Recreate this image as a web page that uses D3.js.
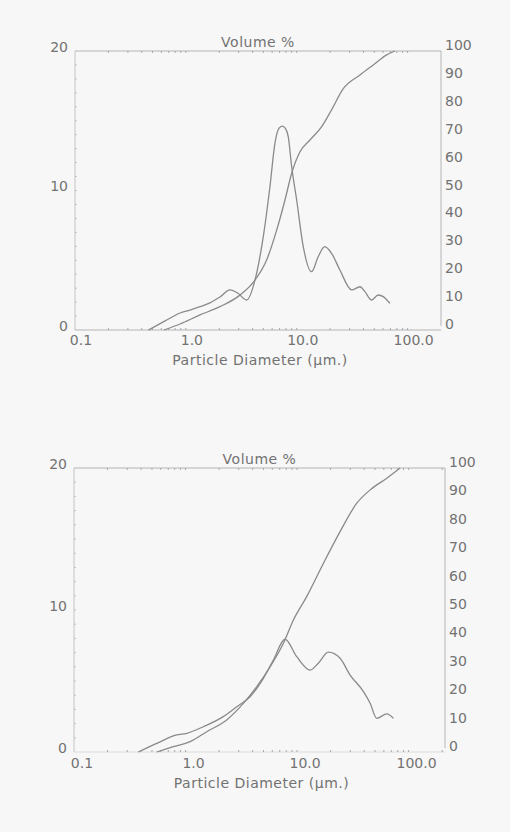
<!DOCTYPE html>
<html>
<head>
<meta charset="utf-8">
<script src="https://cdn.jsdelivr.net/npm/d3@7"></script>
<style>
  html, body { margin: 0; padding: 0; background: #f7f7f7; }
  svg { display: block; }
  text { font-family: "DejaVu Sans", sans-serif; font-size: 14px; fill: #727272; }
</style>
</head>
<body>
<svg id="chart" width="510" height="832"></svg>
<script>
// ---- data ----
const xTickValues = [0.1, 1, 10, 100];
const leftTickValues = [0, 10, 20];
const rightTickValues = [0, 10, 20, 30, 40, 50, 60, 70, 80, 90, 100];
const leftTitle = "Volume %";
const xTitle = "Particle Diameter (µm.)";

// chart 1 : differential volume % (left axis)
const c1FreqDiam = [0.46, 0.65, 0.885, 1.09, 1.34, 1.65, 2.03, 2.50, 2.95, 3.53, 4.20, 4.99, 5.73, 6.36, 6.9, 7.4, 7.9, 8.38, 9.0, 9.98, 11.45, 13.6, 15.6, 17.9, 20.6, 24.5, 31.3, 37.2, 41.2, 47.3, 54.3, 60.3, 69.2];
const c1FreqVol  = [0, 0.65, 1.22, 1.43, 1.67, 1.94, 2.37, 2.87, 2.63, 2.15, 3.58, 6.69, 10.27, 13.4, 14.45, 14.62, 14.45, 13.86, 11.7, 9.32, 5.97, 4.18, 5.25, 5.97, 5.5, 4.3, 2.87, 3.1, 2.75, 2.15, 2.51, 2.39, 1.91];
// chart 1 : cumulative volume % (right axis)
const c1CumDiam = [0.635, 0.885, 1.34, 2.03, 3.07, 4.20, 5.35, 6.59, 7.83, 9.0, 10.7, 13.15, 16.8, 20.6, 26.2, 37.2, 49.0, 64.7, 76.8];
const c1CumVol  = [0, 2.15, 5.4, 8.35, 12.5, 17.9, 25.1, 35.8, 46.6, 56.2, 63.9, 68.1, 72.9, 78.9, 86.4, 91.4, 95.0, 98.6, 100];

// chart 2 : differential volume % (left axis)
const c2FreqDiam = [0.377, 0.552, 0.834, 1.025, 1.444, 2.18, 2.88, 3.79, 4.99, 6.13, 7.80, 9.94, 13.1, 15.5, 19.1, 24.3, 29.9, 39.4, 45.2, 51.9, 63.7, 73.1];
const c2FreqVol  = [0, 0.61, 1.20, 1.32, 1.78, 2.49, 3.19, 3.89, 5.19, 6.48, 7.94, 6.71, 5.77, 6.25, 7.03, 6.6, 5.42, 4.25, 3.43, 2.37, 2.68, 2.37];
// chart 2 : cumulative volume % (right axis)
const c2CumDiam = [0.552, 0.777, 1.097, 1.55, 2.34, 3.30, 4.35, 5.73, 7.54, 9.27, 12.2, 17.2, 24.3, 34.3, 45.2, 63.7, 83.9];
const c2CumVol  = [0, 1.87, 3.63, 7.15, 11.3, 17.1, 23.0, 30.0, 38.3, 46.5, 54.7, 66.4, 77.6, 87.6, 92.3, 96.4, 100];

// ---- layout ----
const charts = [
  { left: 75, right: 441, top: 51, bottom: 330, xMax: 200, labelDx: 6, tickDy: 14.5, titleDy: 35, volDy: -4, bottomColor: "#b4b4b4",
    freqD: c1FreqDiam, freqV: c1FreqVol, cumD: c1CumDiam, cumV: c1CumVol },
  { left: 74, right: 445, top: 468, bottom: 752, xMax: 212, labelDx: 8, tickDy: 16, titleDy: 36, volDy: -4.5, bottomColor: "#dcdcdc",
    freqD: c2FreqDiam, freqV: c2FreqVol, cumD: c2CumDiam, cumV: c2CumVol }
];

const svg = d3.select("#chart");
svg.append("rect").attr("width", 510).attr("height", 832).attr("fill", "#f7f7f7");

const axisColor = "#b4b4b4";
const lineColor = "#8a8a8a";

charts.forEach(c => {
  const g = svg.append("g");
  const x = d3.scaleLog().domain([0.1, c.xMax]).range([c.left, c.right]);
  const yL = d3.scaleLinear().domain([0, 20]).range([c.bottom, c.top]);
  const yR = d3.scaleLinear().domain([0, 100]).range([c.bottom, c.top]);

  // frame lines
  g.append("line").attr("x1", c.left).attr("x2", c.right).attr("y1", c.top).attr("y2", c.top)
    .attr("stroke", axisColor).attr("stroke-width", 1);
  g.append("line").attr("x1", c.left).attr("x2", c.left).attr("y1", c.top).attr("y2", c.bottom)
    .attr("stroke", "#c4c4c4").attr("stroke-width", 1);
  g.append("line").attr("x1", c.right).attr("x2", c.right).attr("y1", c.top).attr("y2", c.bottom - 4)
    .attr("stroke", axisColor).attr("stroke-width", 1);
  g.append("line").attr("x1", c.left).attr("x2", c.right).attr("y1", c.bottom).attr("y2", c.bottom)
    .attr("stroke", c.bottomColor).attr("stroke-width", 1);

  // log minor ticks top & bottom
  const minor = x.ticks().filter(v => v > 0.1 && v < c.xMax);
  minor.forEach(v => {
    [c.top, c.bottom].forEach(yy => {
      g.append("line").attr("x1", x(v)).attr("x2", x(v))
        .attr("y1", yy === c.top ? yy : yy - 2).attr("y2", yy === c.top ? yy + 2 : yy)
        .attr("stroke", "#a8a8a8").attr("stroke-width", 1);
    });
  });
  // left minor ticks every unit
  d3.range(1, 20).forEach(v => {
    g.append("line").attr("x1", c.left).attr("x2", c.left + 2).attr("y1", yL(v)).attr("y2", yL(v))
      .attr("stroke", "#c0c0c0").attr("stroke-width", 1);
  });

  // x tick labels
  const fmt = d3.format(".1f");
  g.selectAll(".xl").data(xTickValues).enter().append("text")
    .attr("x", d => x(d) + c.labelDx).attr("y", c.bottom + c.tickDy)
    .attr("text-anchor", "middle").text(d => fmt(d));

  // left labels
  g.selectAll(".ll").data(leftTickValues).enter().append("text")
    .attr("x", c.left - 7).attr("y", d => yL(d) + 0.5)
    .attr("text-anchor", "end").text(d => d);

  // right labels
  g.selectAll(".rl").data(rightTickValues).enter().append("text")
    .attr("x", c.right + 4).attr("y", d => yR(d) - 1)
    .attr("text-anchor", "start").text(d => d);

  // titles
  g.append("text").attr("x", (c.left + c.right) / 2 + 0).attr("y", c.top + c.volDy)
    .attr("text-anchor", "middle").attr("letter-spacing", "0.5px").text(leftTitle);
  g.append("text").attr("x", (c.left + c.right) / 2 + 2).attr("y", c.bottom + c.titleDy)
    .attr("text-anchor", "middle").attr("letter-spacing", "0.5px").text(xTitle);

  // curves
  const freq = c.freqD.map((d, i) => [d, c.freqV[i]]);
  const cum = c.cumD.map((d, i) => [d, c.cumV[i]]);
  const lineL = d3.line().x(d => x(d[0])).y(d => yL(d[1])).curve(d3.curveMonotoneX);
  const lineR = d3.line().x(d => x(d[0])).y(d => yR(d[1])).curve(d3.curveMonotoneX);

  g.append("path").attr("d", lineR(cum)).attr("fill", "none")
    .attr("stroke", lineColor).attr("stroke-width", 1.3);
  g.append("path").attr("d", lineL(freq)).attr("fill", "none")
    .attr("stroke", lineColor).attr("stroke-width", 1.3);
});
</script>
</body>
</html>
